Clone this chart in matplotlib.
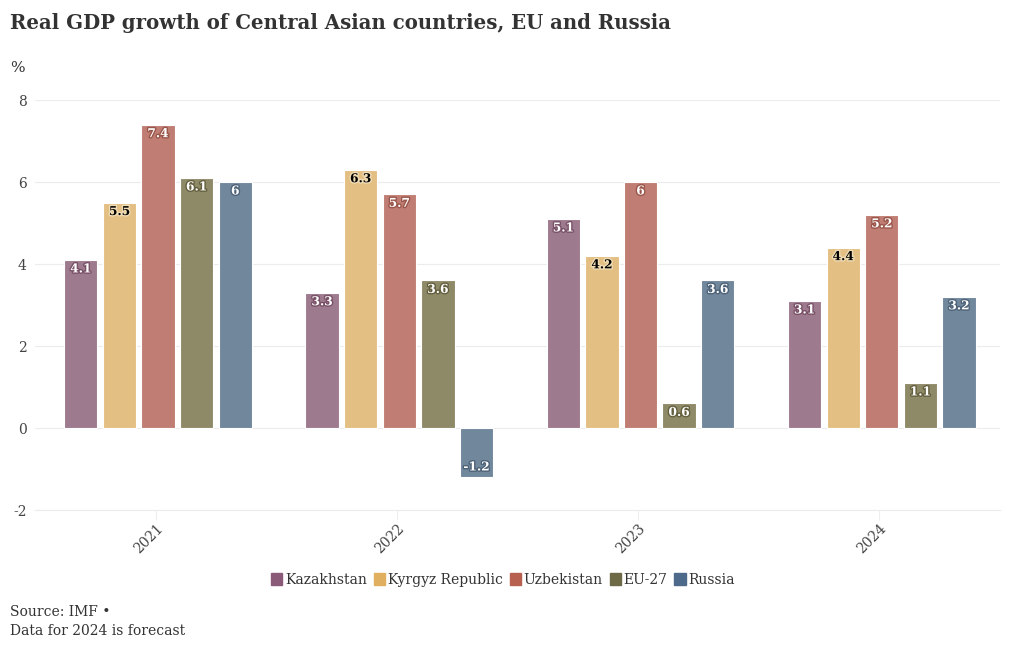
import matplotlib.pyplot as plt
import matplotlib.patheffects as pe
import numpy as np

years = ["2021", "2022", "2023", "2024"]
countries = ["Kazakhstan", "Kyrgyz Republic", "Uzbekistan", "EU-27", "Russia"]
values = {
    "Kazakhstan": [4.1, 3.3, 5.1, 3.1],
    "Kyrgyz Republic": [5.5, 6.3, 4.2, 4.4],
    "Uzbekistan": [7.4, 5.7, 6.0, 5.2],
    "EU-27": [6.1, 3.6, 0.6, 1.1],
    "Russia": [6.0, -1.2, 3.6, 3.2],
}
bar_colors = ["#9e7a8e", "#e3bf84", "#c07d73", "#8e8a68", "#71879c"]
legend_colors = ["#8a5a78", "#e0b060", "#b86050", "#6e6a48", "#4e6a8a"]
halo_colors = ["#7a5268", "#f0dcb4", "#9a564a", "#64603f", "#4e6278"]
text_colors = ["white", "black", "white", "white", "white"]

plt.rcParams["font.family"] = ["DejaVu Serif"]
plt.rcParams["axes.unicode_minus"] = False

fig = plt.figure(figsize=(10.2, 6.5), dpi=100)
ax = fig.add_axes([35 / 1020, 140 / 650, 965 / 1020, 410 / 650])

x = np.arange(len(years))
step = 0.16
width = 0.138
for i, c in enumerate(countries):
    pos = x + (i - 2) * step + 0.01
    ax.bar(pos, values[c], width, color=bar_colors[i], edgecolor="white", linewidth=0.8, zorder=2)
    for xb, v in zip(pos, values[c]):
        yy = v - 0.22 if v > 0 else v + 0.25
        ax.text(xb, yy, f"{v:g}", ha="center", va="center", fontsize=8.8, fontweight="bold",
                color=text_colors[i], zorder=3,
                path_effects=[pe.withStroke(linewidth=2, foreground=halo_colors[i])])

ax.set_xlim(-0.5, 3.5)
ax.set_ylim(-2, 8)
ax.set_yticks([-2, 0, 2, 4, 6, 8])
ax.set_xticks(x)
ax.set_xticklabels(years, rotation=45, ha="right", va="top", rotation_mode="anchor")
ax.grid(axis="y", color="#ececec", linewidth=0.8, zorder=0)
ax.axhline(-2, color="#ececec", linewidth=0.8, zorder=0, clip_on=False)
for s in ax.spines.values():
    s.set_visible(False)
ax.tick_params(axis="y", length=0, labelsize=10, colors="#444444", pad=6)
ax.tick_params(axis="x", length=7, color="#eeeeee", labelsize=10, labelcolor="#444444", pad=1)

fig.text(10 / 1020, 1 - 23 / 650, "Real GDP growth of Central Asian countries, EU and Russia",
         fontsize=14.2, fontweight="bold", color="#333333", va="center", ha="left")
fig.text(10 / 1020, 1 - 68 / 650, "%", fontsize=11, color="#333333", va="center", ha="left")

handles = [plt.Rectangle((0, 0), 1, 1, color=legend_colors[i]) for i in range(len(countries))]
fig.legend(handles, countries, loc="center", bbox_to_anchor=(503 / 1020, 1 - 580 / 650), ncol=5,
           frameon=False, fontsize=10, handlelength=0.8, handleheight=1.0, handletextpad=0.2,
           columnspacing=0.5, labelcolor="#333333")

fig.text(10 / 1020, 1 - 612 / 650, "Source: IMF \u2022", fontsize=10, color="#333333", va="center")
fig.text(10 / 1020, 1 - 631 / 650, "Data for 2024 is forecast", fontsize=10, color="#333333", va="center")

fig.savefig("out.png", dpi=100)
